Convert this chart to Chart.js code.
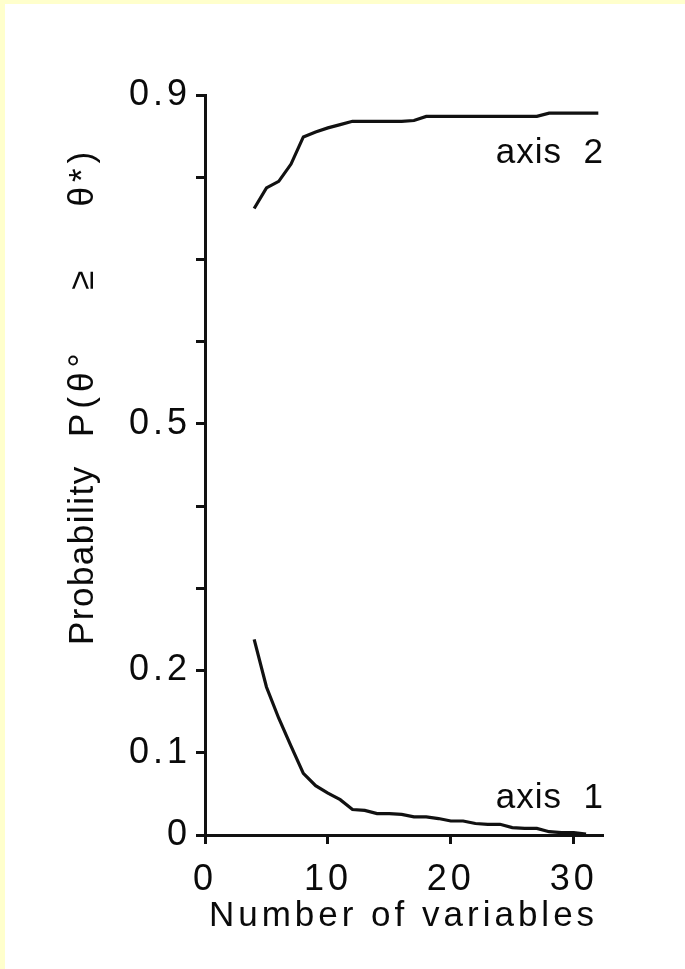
<!DOCTYPE html>
<html>
<head>
<meta charset="utf-8">
<style>
  html, body { margin: 0; padding: 0; background: #ffffcc; }
  #wrap { position: absolute; left: 5px; top: 4px; width: 680px; height: 965px; background: #fff; }
  canvas { display: block; }
</style>
<script src="https://cdn.jsdelivr.net/npm/chart.js@4.4.1/dist/chart.umd.min.js"></script>
</head>
<body>
<div id="wrap"><canvas id="myChart" width="680" height="965"></canvas></div>
<script>
"use strict";

// number of variables (x) and probability for each axis
const nVars1 = [4, 5, 6, 7, 8, 9, 10, 11, 12, 13, 14, 15, 16, 17, 18, 19, 20, 21, 22, 23, 24, 25, 26, 27, 28, 29, 30, 31];
const axis1Prob = [0.238, 0.180, 0.142, 0.108, 0.075, 0.060, 0.051, 0.043, 0.031, 0.030, 0.026, 0.026, 0.025, 0.022,
    0.022, 0.020, 0.017, 0.017, 0.014, 0.013, 0.013, 0.009, 0.008, 0.008, 0.004, 0.003, 0.003, 0.001];

const nVars2 = [4, 5, 6, 7, 8, 9, 10, 11, 12, 13, 14, 15, 16, 17, 18, 19, 20, 21, 22, 23, 24, 25, 26, 27, 28, 29, 30, 31, 32];
const axis2Prob = [0.762, 0.787, 0.795, 0.816, 0.849, 0.855, 0.860, 0.864, 0.868, 0.868, 0.868, 0.868, 0.868, 0.869,
    0.874, 0.874, 0.874, 0.874, 0.874, 0.874, 0.874, 0.874, 0.874, 0.874, 0.878, 0.878, 0.878, 0.878, 0.878];

const yLabelled = [0, 0.1, 0.2, 0.5, 0.9];
const xTitle = 'Number of variables';
const yTitle = ['Probability', 'P(θ°    ≥    θ*)'];

const FONT = '"Liberation Sans", Arial, Helvetica, sans-serif';
const INK = '#0a0a0a';

function toPoints(xs, ys) {
    return xs.map((x, i) => ({x: x, y: ys[i]}));
}

// texts drawn on top: y title and the two curve names
const textPlugin = {
    id: 'texts',
    beforeDraw(chart) {
        chart.ctx.letterSpacing = '4px';
    },
    afterDraw(chart) {
        const {ctx, chartArea, scales: {y}} = chart;
        ctx.save();
        ctx.fillStyle = INK;
        ctx.textBaseline = 'alphabetic';

        // rotated y title
        ctx.font = '35px ' + FONT;
        const bx = chartArea.left - 112;
        ctx.save();
        ctx.translate(bx, y.getPixelForValue(0.231));
        ctx.rotate(-Math.PI / 2);
        ctx.letterSpacing = '1.5px';
        ctx.textAlign = 'left';
        ctx.fillText(yTitle[0], 0, 0);
        ctx.restore();
        ctx.save();
        ctx.translate(bx, y.getPixelForValue(0.484));
        ctx.rotate(-Math.PI / 2);
        ctx.letterSpacing = '5px';
        ctx.textAlign = 'left';
        ctx.fillText(yTitle[1], 0, 0);
        ctx.restore();

        // curve names
        ctx.font = '35px ' + FONT;
        ctx.letterSpacing = '1px';
        ctx.textAlign = 'right';
        ctx.fillText('axis  2', chartArea.right + 2, y.getPixelForValue(0.8173));
        ctx.fillText('axis  1', chartArea.right + 2, y.getPixelForValue(0.0328));
        ctx.restore();
    }
};

const ctx = document.getElementById('myChart').getContext('2d');

new Chart(ctx, {
    type: 'line',
    data: {
        datasets: [{
                label: 'axis 1',
                data: toPoints(nVars1, axis1Prob),
                borderColor: '#111',
                borderWidth: 3.2,
                pointRadius: 0,
                tension: 0,
                fill: false
            }, {
                label: 'axis 2',
                data: toPoints(nVars2, axis2Prob),
                borderColor: '#111',
                borderWidth: 3.2,
                pointRadius: 0,
                tension: 0,
                fill: false
            }
        ]
    },
    options: {
        responsive: false,
        animation: false,
        devicePixelRatio: 1,
        layout: {
            padding: {left: 0, right: 83, top: 91, bottom: 32}
        },
        plugins: {
            legend: {display: false},
            tooltip: {enabled: false}
        },
        scales: {
            x: {
                type: 'linear',
                min: 0,
                max: 32.3,
                afterFit(scale) {
                    scale.height = 102;
                },
                border: {display: true, color: '#111', width: 3},
                grid: {drawOnChartArea: false, drawTicks: true, tickLength: 9, color: '#111', lineWidth: 3},
                ticks: {
                    stepSize: 10,
                    includeBounds: false,
                    padding: 14,
                    color: INK,
                    font: {family: FONT, size: 36},
                    maxRotation: 0
                },
                title: {
                    display: true,
                    text: xTitle,
                    color: INK,
                    font: {family: FONT, size: 35},
                    padding: {top: 0, bottom: 0}
                }
            },
            y: {
                min: 0,
                max: 0.9,
                afterFit(scale) {
                    scale.width = 200;
                },
                border: {display: true, color: '#111', width: 3},
                grid: {drawOnChartArea: false, drawTicks: true, tickLength: 9, color: '#111', lineWidth: 3},
                ticks: {
                    stepSize: 0.1,
                    padding: 5,
                    color: INK,
                    font: {family: FONT, size: 36},
                    callback(value) {
                        const hit = yLabelled.find(v => Math.abs(v - value) < 1e-6);
                        return hit === undefined ? '' : String(hit);
                    }
                }
            }
        }
    },
    plugins: [textPlugin]
});
</script>
</body>
</html>
